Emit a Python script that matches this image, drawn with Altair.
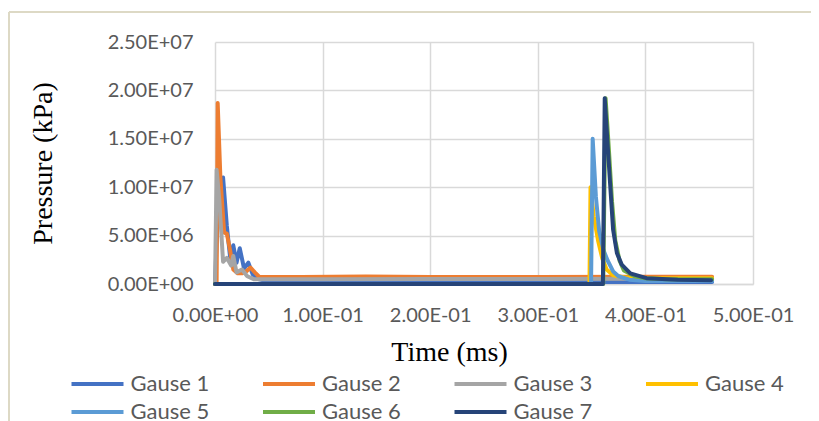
import altair as alt
import pandas as pd

series_names = ["Gause 1", "Gause 2", "Gause 3", "Gause 4", "Gause 5", "Gause 6", "Gause 7"]
series_colors = ["#4472C4", "#ED7D31", "#A5A5A5", "#FFC000", "#5B9BD5", "#70AD47", "#264478"]

t_g1 = [0, 0.003, 0.0075, 0.011, 0.014, 0.017, 0.020, 0.023, 0.027, 0.031, 0.035, 0.040, 0.050,
        0.070, 0.100, 0.130, 0.153, 0.170, 0.184, 0.200, 0.250, 0.300, 0.350, 0.400, 0.462]
p_g1 = [0, 8.5e6, 1.10e7, 6.0e6, 2.8e6, 4.0e6, 2.2e6, 3.7e6, 1.6e6, 2.2e6, 1.0e6, 0.5e6, 0.25e6,
        0.2e6, 0.2e6, 0.2e6, 0.3e6, 0.2e6, 0.3e6, 0.2e6, 0.2e6, 0.2e6, 0.2e6, 0.2e6, 0.2e6]

t_g2 = [0, 0.0015, 0.0025, 0.005, 0.0085, 0.011, 0.014, 0.017, 0.021, 0.025, 0.029, 0.033, 0.037,
        0.041, 0.050, 0.080, 0.140, 0.200, 0.300, 0.400, 0.462]
p_g2 = [0, 0, 1.87e7, 1.1e7, 5.3e6, 5.2e6, 3.5e6, 1.5e6, 1.1e6, 1.1e6, 1.3e6, 1.7e6, 1.2e6,
        0.75e6, 0.72e6, 0.72e6, 0.78e6, 0.72e6, 0.72e6, 0.75e6, 0.75e6]

t_g3 = [0, 0.0015, 0.004, 0.0075, 0.011, 0.015, 0.017, 0.020, 0.025, 0.030, 0.036, 0.045, 0.100,
        0.200, 0.300, 0.400, 0.462]
p_g3 = [0, 1.18e7, 8.7e6, 2.3e6, 2.7e6, 1.9e6, 2.9e6, 1.2e6, 1.5e6, 0.8e6, 0.5e6, 0.5e6, 0.5e6,
        0.52e6, 0.52e6, 0.55e6, 0.55e6]

t_g4 = [0, 0.348, 0.349, 0.352, 0.356, 0.360, 0.364, 0.370, 0.380, 0.400, 0.462]
p_g4 = [0, 0, 1.0e7, 7.0e6, 4.5e6, 2.6e6, 1.5e6, 0.9e6, 0.7e6, 0.6e6, 0.6e6]

t_g5 = [0, 0.3495, 0.351, 0.354, 0.357, 0.361, 0.365, 0.370, 0.375, 0.385, 0.400, 0.462]
p_g5 = [0, 0, 1.5e7, 9.0e6, 5.5e6, 3.5e6, 2.4e6, 1.3e6, 0.8e6, 0.45e6, 0.3e6, 0.3e6]

t_g6 = [0, 0.3608, 0.3630, 0.366, 0.369, 0.372, 0.376, 0.380, 0.390, 0.400, 0.420, 0.462]
p_g6 = [0, 0, 1.92e7, 1.4e7, 8.5e6, 4.5e6, 2.4e6, 1.4e6, 0.8e6, 0.6e6, 0.5e6, 0.5e6]

t_g7 = [0, 0.3605, 0.3622, 0.367, 0.370, 0.3735, 0.378, 0.386, 0.401, 0.430, 0.461]
p_g7 = [0, 0, 1.92e7, 1.07e7, 5.6e6, 3.2e6, 2.0e6, 1.1e6, 0.6e6, 0.45e6, 0.4e6]

x_ticks = [0, 0.1, 0.2, 0.3, 0.4, 0.5]
y_ticks = [0, 5e6, 1e7, 1.5e7, 2e7, 2.5e7]

all_t = [t_g1, t_g2, t_g3, t_g4, t_g5, t_g6, t_g7]
all_p = [p_g1, p_g2, p_g3, p_g4, p_g5, p_g6, p_g7]
rows = []
for name, ts, ps in zip(series_names, all_t, all_p):
    for i, (t, p) in enumerate(zip(ts, ps)):
        rows.append({"series": name, "time": t, "pressure": p, "idx": i})
df = pd.DataFrame(rows)

E = "floor(log(abs(datum.value))/LN10 + 1e-9)"
sci_expr = ("datum.value == 0 ? '0.00E+00' : format(datum.value / pow(10, " + E + "), '.2f') + 'E' + ("
            + E + " < 0 ? '-' : '+') + (abs(" + E + ") < 10 ? '0' : '') + abs(" + E + ")")

FONT = "Lato"
GRID = "#d9d9d9"

lines = alt.Chart(df).mark_line(strokeWidth=4, strokeJoin="round", strokeCap="round").encode(
    x=alt.X("time:Q",
            scale=alt.Scale(domain=[0, 0.5], nice=False, zero=False),
            axis=alt.Axis(values=x_ticks, labelExpr=sci_expr, title="Time (ms)",
                          grid=True, gridColor=GRID, gridWidth=1.5,
                          domain=True, domainColor=GRID, domainWidth=1.5,
                          ticks=False, tickSize=0,
                          labelFont=FONT, labelFontSize=20, labelColor="#595959",
                          labelBaseline="middle", labelPadding=31, labelFlush=False,
                          titleFont="Liberation Serif", titleFontSize=28, titleFontWeight="normal",
                          titleColor="#000000", titleX=234, titleY=68, titleAlign="center",
                          titleBaseline="middle")),
    y=alt.Y("pressure:Q",
            scale=alt.Scale(domain=[0, 2.5e7], nice=False),
            axis=alt.Axis(values=y_ticks, labelExpr=sci_expr, title="Pressure (kPa)",
                          grid=True, gridColor=GRID, gridWidth=1.5,
                          domain=False, ticks=False, tickSize=0,
                          labelFont=FONT, labelFontSize=20, labelColor="#595959",
                          labelPadding=22,
                          titleFont="Liberation Serif", titleFontSize=28, titleFontWeight="normal",
                          titleColor="#000000", titleX=-172, titleY=121, titleAlign="center",
                          titleBaseline="middle", titleAngle=270)),
    color=alt.Color("series:N",
                    scale=alt.Scale(domain=series_names, range=series_colors),
                    legend=alt.Legend(title=None, orient="none", legendX=-145.5, legendY=331,
                                      direction="horizontal",
                                      columns=4, symbolType="stroke", symbolSize=2704,
                                      symbolStrokeWidth=4, clipHeight=22, rowPadding=6,
                                      columnPadding=51.5, labelOffset=5, padding=0,
                                      labelFont=FONT, labelFontSize=22, labelColor="#595959",
                                      labelLimit=200)),
    order=alt.Order("idx:Q"),
)

frame_left = alt.Chart(df).mark_rule(color="#ddd8c4", strokeWidth=1.5).encode(
    x=alt.value(-206), y=alt.value(-30), y2=alt.value(420))
frame_top = alt.Chart(df).mark_rule(color="#ddd8c4", strokeWidth=1.5).encode(
    x=alt.value(-206), x2=alt.value(640), y=alt.value(-30))

chart = alt.layer(frame_left, frame_top, lines).properties(
    width=538, height=242,
    autosize=alt.AutoSizeParams(type="none"),
    padding={"left": 207, "top": 34, "right": 58, "bottom": 145},
    background="#ffffff",
).configure_view(stroke=None)

chart.save("out.html", embed_options={"renderer": "svg", "actions": False})
